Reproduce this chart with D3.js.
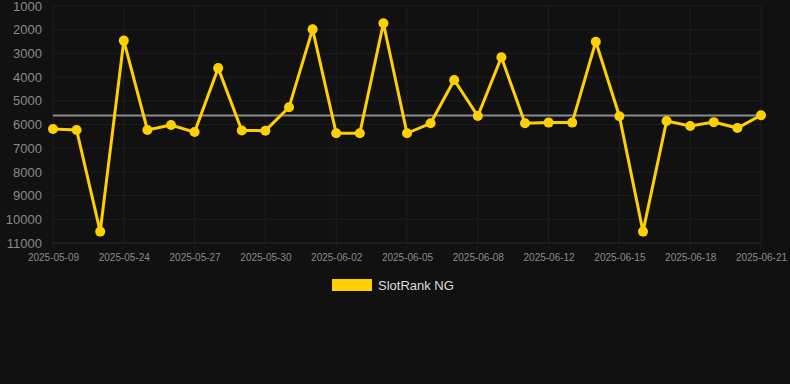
<!DOCTYPE html>
<html>
<head>
<meta charset="utf-8">
<script src="https://cdn.jsdelivr.net/npm/d3@7/dist/d3.min.js"></script>
<style>
  html, body { margin: 0; padding: 0; background: #111111; }
  svg { display: block; font-family: "Liberation Sans", Arial, sans-serif; }
</style>
</head>
<body>
<div id="chart"></div>
<script>
// dates on the category axis (every third one is labelled)
var dates = ["2025-05-09","2025-05-10","2025-05-23","2025-05-24","2025-05-25","2025-05-26",
  "2025-05-27","2025-05-28","2025-05-29","2025-05-30","2025-05-31","2025-06-01",
  "2025-06-02","2025-06-03","2025-06-04","2025-06-05","2025-06-06","2025-06-07",
  "2025-06-08","2025-06-10","2025-06-11","2025-06-12","2025-06-13","2025-06-14",
  "2025-06-15","2025-06-16","2025-06-17","2025-06-18","2025-06-19","2025-06-20","2025-06-21"];

var ranks = [6190,6230,10520,2460,6230,6020,6320,3620,6250,6260,5275,1985,
  6370,6370,1730,6370,5950,4120,5640,3165,5950,5920,5920,2505,
  5650,10520,5850,6060,5900,6150,5610];

var averageRank = 5620;
var yTicks = [1000,2000,3000,4000,5000,6000,7000,8000,9000,10000,11000];
var seriesName = "SlotRank NG";

var width = 790, height = 384;
var margin = {top: 6, right: 29, bottom: 141, left: 53};
var innerW = width - margin.left - margin.right,
    innerH = height - margin.top - margin.bottom;

var svg = d3.select("#chart").append("svg")
  .attr("width", width).attr("height", height);

svg.append("rect").attr("width", width).attr("height", height).attr("fill", "#111111");

var g = svg.append("g").attr("transform", "translate(" + margin.left + "," + margin.top + ")");

var x = d3.scalePoint().domain(dates).range([0, innerW]);
var y = d3.scaleLinear().domain([1000, 11000]).range([0, innerH]);

var gridColor = "#1f1f1f";

// horizontal grid
g.selectAll(".hgrid").data(yTicks).enter().append("line")
  .attr("x1", 0).attr("x2", innerW)
  .attr("y1", function(d) { return y(d); }).attr("y2", function(d) { return y(d); })
  .attr("stroke", function(d) { return d === 11000 ? "#2a2a2a" : gridColor; })
  .attr("stroke-width", 1);

// vertical grid at labelled dates
var labelled = dates.filter(function(d, i) { return i % 3 === 0; });
g.selectAll(".vgrid").data(labelled).enter().append("line")
  .attr("x1", function(d) { return x(d); }).attr("x2", function(d) { return x(d); })
  .attr("y1", 0).attr("y2", innerH + 5)
  .attr("stroke", gridColor).attr("stroke-width", 1);

// y axis labels
var yAxis = g.append("g").call(d3.axisLeft(y).tickValues(yTicks).tickSize(0).tickPadding(11).tickFormat(d3.format("d")));
yAxis.select(".domain").remove();
yAxis.selectAll("text").attr("fill", "#8a8a8a").style("font-size", "13px");

// x axis labels
var xAxis = g.append("g").attr("transform", "translate(0," + innerH + ")")
  .call(d3.axisBottom(x).tickValues(labelled).tickSize(0).tickPadding(11));
xAxis.select(".domain").remove();
xAxis.selectAll("text").attr("fill", "#8a8a8a").style("font-size", "10px");

// average line
g.append("line")
  .attr("x1", x(dates[0])).attr("x2", x(dates[dates.length - 1]))
  .attr("y1", y(averageRank)).attr("y2", y(averageRank))
  .attr("stroke", "#8c8c8c").attr("stroke-width", 2);

var gold = "#FFD000";

var line = d3.line()
  .x(function(d, i) { return x(dates[i]); })
  .y(function(d) { return y(d); });

g.append("path").datum(ranks)
  .attr("d", line)
  .attr("fill", "none")
  .attr("stroke", gold)
  .attr("stroke-width", 3)
  .attr("stroke-linejoin", "miter");

g.selectAll(".dot").data(ranks).enter().append("circle")
  .attr("cx", function(d, i) { return x(dates[i]); })
  .attr("cy", function(d) { return y(d); })
  .attr("r", 5)
  .attr("fill", gold);

// legend
var legend = svg.append("g").attr("transform", "translate(332,279)");
legend.append("rect").attr("width", 40).attr("height", 12).attr("fill", gold);
legend.append("text").attr("x", 46).attr("y", 10.5)
  .attr("fill", "#dddddd").style("font-size", "13px").text(seriesName);
</script>
</body>
</html>
